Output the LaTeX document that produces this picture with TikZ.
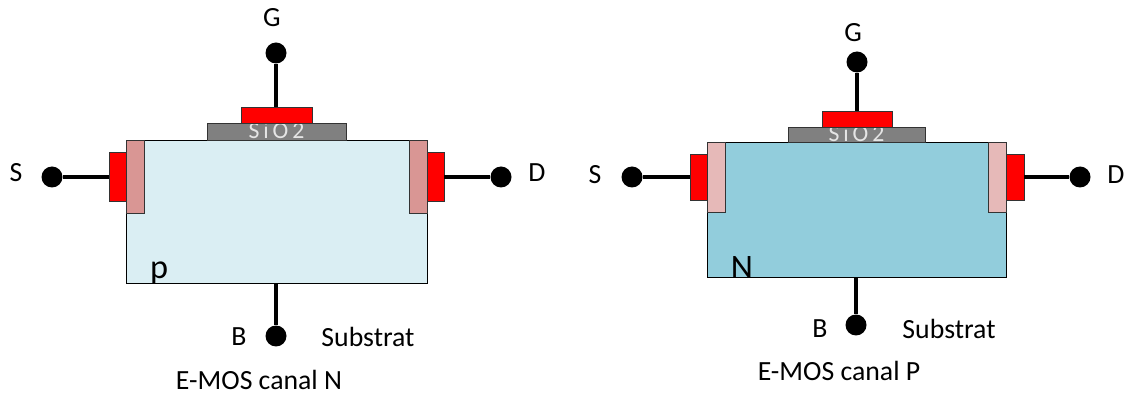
\documentclass[tikz,border=0pt]{standalone}
\usepackage{fontspec}
\setmainfont{Carlito}
\usepackage{tikz}
\definecolor{substratep}{HTML}{DAEEF3}
\definecolor{substraten}{HTML}{92CDDC}
\definecolor{dopedark}{HTML}{D99694}
\definecolor{dopelight}{HTML}{E6B9B8}
\tikzstyle{layer}=[shape=rectangle,draw=black!80,line width=0.45pt,inner sep=0pt,outer sep=0pt]
\tikzstyle{metal}=[layer,fill=red]
\tikzstyle{oxide}=[layer,fill=black!50,text=white!90!black,font=\fontsize{13.5}{14}\selectfont,execute at begin node={\spaceskip=2.2pt\relax},text height=8.4pt,text depth=0pt]
\tikzstyle{terminal}=[shape=circle,fill=black,inner sep=0pt,minimum size=0.42cm]
\tikzstyle{wire}=[line width=1.9pt,black]
\tikzstyle{label}=[inner sep=0pt,font=\fontsize{15.8}{18}\selectfont]
\tikzstyle{dopant}=[inner sep=0pt,font=\fontsize{19.5}{22}\selectfont]

\begin{document}
\begin{tikzpicture}[x=0.02cm,y=-0.02cm]
\useasboundingbox (0,0) rectangle (1125,394);

% E-MOS canal N
\node[layer,draw=black,fill=substratep,minimum width=6.02cm,minimum height=2.86cm] (subN) at (276.5,211.5){};
\node[layer,fill=dopedark,minimum width=0.36cm,minimum height=1.46cm] (dopeSN) at (135,176.5){};
\node[layer,fill=dopedark,minimum width=0.36cm,minimum height=1.46cm] (dopeDN) at (418,176.5){};
\node[metal,minimum width=0.34cm,minimum height=0.98cm] (metSN) at (117.5,177){};
\node[metal,minimum width=0.34cm,minimum height=0.98cm] (metDN) at (435.5,177){};
\node[oxide,minimum width=2.78cm,minimum height=0.34cm] (oxN) at (276.5,131.5){S i O 2};
\node[metal,minimum width=1.42cm,minimum height=0.32cm] (metGN) at (276.5,115){};

\node[terminal] (gN) at (276,53){} edge[wire] (gN |- metGN.north);
\node[terminal] (sN) at (52,177){} edge[wire] (metSN);
\node[terminal] (dN) at (501,177){} edge[wire] (metDN);
\node[terminal] (bN) at (276,336){} edge[wire] (bN |- subN.south);

\node[label] (lgN) at (272,18){G};
\node[label] (lsN) at (16,173){S};
\node[label] (ldN) at (537,173){D};
\node[label] (lbN) at (239,337){B};
\node[label] (lstN) at (368,337){Substrat};
\node[dopant] (lpN) at (159,273){p};
\node[label] (capN) at (259,380){E-MOS canal N};

% E-MOS canal P
\node[layer,draw=black,fill=substraten,minimum width=5.98cm,minimum height=2.7cm] (subP) at (856.5,209.5){};
\node[layer,fill=dopelight,minimum width=0.36cm,minimum height=1.4cm] (dopeSP) at (716,177){};
\node[layer,fill=dopelight,minimum width=0.36cm,minimum height=1.4cm] (dopeDP) at (997,177){};
\node[metal,minimum width=0.34cm,minimum height=0.92cm] (metSP) at (698.5,177){};
\node[metal,minimum width=0.36cm,minimum height=0.92cm] (metDP) at (1015,177){};
\node[oxide,minimum width=2.74cm,minimum height=0.3cm] (oxP) at (856.5,134.5){S i O 2};
\node[metal,minimum width=1.4cm,minimum height=0.32cm] (metGP) at (857,119){};

\node[terminal] (gP) at (857,62){} edge[wire] (gP |- metGP.north);
\node[terminal] (sP) at (632,177){} edge[wire] (metSP);
\node[terminal] (dP) at (1080,177){} edge[wire] (metDP);
\node[terminal] (bP) at (856,325){} edge[wire] (bP |- subP.south);

\node[label] (lgP) at (853,33){G};
\node[label] (lsP) at (595,175){S};
\node[label] (ldP) at (1116,175){D};
\node[label] (lbP) at (820,329){B};
\node[label] (lstP) at (949,329){Substrat};
\node[dopant] (lnP) at (742,268){N};
\node[label] (capP) at (839,371){E-MOS canal P};

\end{tikzpicture}
\end{document}
